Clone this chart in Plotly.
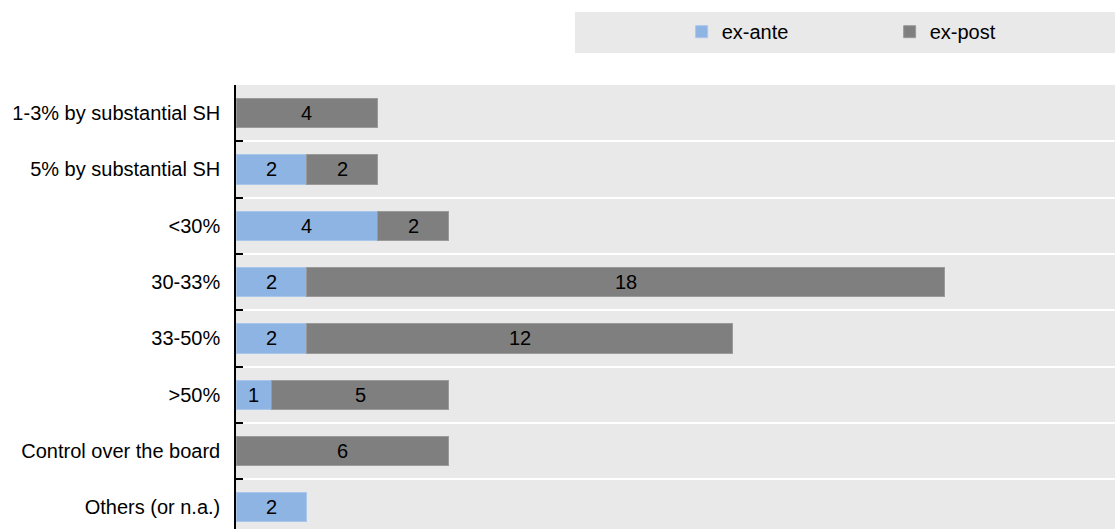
import plotly.graph_objects as go

categories = ["1-3% by substantial SH", "5% by substantial SH", "<30%", "30-33%",
              "33-50%", ">50%", "Control over the board", "Others (or n.a.)"]
ex_ante = [None, 2, 4, 2, 2, 1, None, 2]
ex_post = [4, 2, 2, 18, 12, 5, 6, None]

FONT = "Liberation Sans Narrow, Arial Narrow, Liberation Sans, Arial, sans-serif"

fig = go.Figure()
fig.add_trace(go.Bar(
    y=categories, x=ex_ante, name="ex-ante", orientation="h",
    marker=dict(color="#8DB4E2", line=dict(color="#A9C7EB", width=1)),
    width=0.52, hoverinfo="x+y",
))
fig.add_trace(go.Bar(
    y=categories, x=ex_post, name="ex-post", orientation="h",
    marker=dict(color="#7F7F7F", line=dict(color="#9A9A9A", width=1)),
    width=0.52, hoverinfo="x+y",
))

# value labels centred on each segment (positions derived from the data)
annotations = []
for cat, a, p in zip(categories, ex_ante, ex_post):
    base = 0
    for v in (a, p):
        if v:
            annotations.append(dict(x=base + v / 2, y=cat, xref="x", yref="y",
                                    text=str(v), showarrow=False,
                                    font=dict(family=FONT, size=20, color="black")))
            base += v

fig.update_layout(
    width=1115, height=529,
    margin=dict(l=236, r=0, t=85, b=0, autoexpand=False),
    barmode="stack",
    paper_bgcolor="white",
    plot_bgcolor="#E9E9E9",
    font=dict(family=FONT, size=20, color="black"),
    showlegend=True,
    legend=dict(
        orientation="h", x=0.507, xanchor="left", y=1.164, yanchor="top",
        bgcolor="rgba(0,0,0,0)", entrywidth=163, entrywidthmode="pixels",
        font=dict(family=FONT, size=20, color="black"), itemwidth=30,
        traceorder="normal",
    ),
    shapes=[dict(type="rect", xref="paper", yref="paper",
                 x0=0.3857, x1=1.0, y0=1.072, y1=1.1644,
                 fillcolor="#E9E9E9", line=dict(width=0), layer="below")],
    annotations=annotations,
)
fig.update_xaxes(range=[0, 24.8], showgrid=False, zeroline=False,
                 showticklabels=False, ticks="", showline=False)
fig.update_yaxes(type="category", categoryorder="array", categoryarray=categories,
                 range=[7.386, -0.5], tickson="boundaries", ticks="inside",
                 ticklen=7, tickcolor="black", tickwidth=1.5,
                 showline=True, linecolor="black", linewidth=1.5,
                 showgrid=True, gridcolor="white", gridwidth=2,
                 ticklabelstandoff=10, automargin=False,
                 tickfont=dict(family=FONT, size=20, color="black"))

fig.write_html("out.html",
               config={"displayModeBar": False},
               post_script="document.body.style.margin='0px';"
                           "document.body.style.overflow='hidden';")
